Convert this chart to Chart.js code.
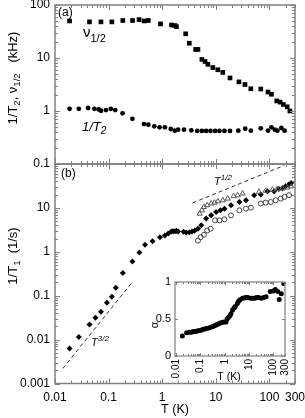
<!DOCTYPE html>
<html lang="en">
<head>
<meta charset="UTF-8">
<title>Relaxation rates vs temperature</title>
<script src="https://cdn.jsdelivr.net/npm/chart.js@4"></script>
<style>
  body { margin: 0; background: #fff; }
  #wrap { position: relative; width: 305px; height: 418px; }
  canvas { position: absolute; }
</style>
</head>
<body>
<div id="wrap">
  <canvas id="top-panel" width="305" height="418" style="left:0;top:0"></canvas>
  <canvas id="bottom-panel" width="305" height="418" style="left:0;top:0"></canvas>
  <canvas id="inset" width="165" height="120" style="left:140px;top:268px"></canvas>
</div>
<script>
// (a) linewidth nu_1/2 (kHz) and 1/T2 (kHz) vs T (K)
const tNu = [0.0187, 0.044, 0.072, 0.115, 0.184, 0.28, 0.37, 0.46, 0.55, 0.93, 1.49, 1.72, 1.84, 2.74, 3.2, 4.2, 4.64, 5.5, 6.3, 7.1, 8.8, 10.9, 13.5, 18.4, 27, 35, 45, 69, 94, 109, 137, 158, 182, 215, 241];
const nuHalf = [50, 48, 48, 48, 51, 51, 53, 50, 51, 44, 42, 41, 39, 28.6, 19, 14.5, 14.5, 9.4, 8.6, 7.6, 6.6, 6.0, 5.35, 4.2, 3.54, 3.16, 2.63, 2.6, 2.28, 2.07, 1.55, 1.47, 1.33, 1.2, 1.0];
const tT2 = [0.0187, 0.0278, 0.0414, 0.0543, 0.0654, 0.0722, 0.0893, 0.11, 0.133, 0.182, 0.278, 0.457, 0.55, 0.711, 0.893, 1.12, 1.445, 1.72, 1.98, 2.55, 3.49, 4.51, 5.5, 6.6, 7.96, 9.72, 11.7, 14.5, 18.4, 26.3, 35.4, 45, 69, 94, 109, 126, 141, 167, 192];
const invT2 = [1.10, 1.10, 1.14, 1.10, 1.07, 1.01, 1.04, 1.10, 1.04, 0.905, 0.711, 0.566, 0.551, 0.513, 0.491, 0.491, 0.457, 0.426, 0.445, 0.445, 0.432, 0.42, 0.42, 0.42, 0.42, 0.42, 0.42, 0.42, 0.42, 0.426, 0.465, 0.426, 0.471, 0.426, 0.491, 0.445, 0.426, 0.478, 0.426];

// (b) 1/T1 (1/s) vs T (K)
const tT1 = [0.0187, 0.0278, 0.044, 0.0568, 0.072, 0.093, 0.115, 0.136, 0.184, 0.278, 0.375, 0.478, 0.66, 0.906, 1.12, 1.3, 1.49, 1.6, 1.74, 1.85, 1.98, 2.5, 2.8, 3.2, 3.6, 4.0, 4.64, 5.35, 6.6, 8.2, 10.1, 12.2, 14.5, 19.2, 27.5, 36.6, 52, 69, 92, 122, 150, 175, 200, 230, 255];
const invT1 = [0.00625, 0.0115, 0.0222, 0.0315, 0.043, 0.0695, 0.095, 0.151, 0.328, 0.605, 0.96, 1.44, 1.74, 2.15, 2.35, 2.6, 2.9, 2.95, 2.95, 3.0, 2.9, 2.85, 2.75, 2.8, 2.9, 3.0, 3.35, 4.0, 5.7, 6.76, 8.05, 8.8, 9.6, 11.5, 13.7, 14.9, 19.4, 20.2, 24, 24, 27, 28, 31, 34, 37];
const tTri = [5.0, 5.5, 6.0, 6.9, 8.2, 9.5, 10.9, 13.5, 16.7, 21.5, 25.5, 31.6, 64, 85, 114, 141, 174, 215, 255];
const triT1 = [7.4, 8.8, 10.5, 11.5, 12.6, 13.2, 14.1, 14.9, 16.3, 18.5, 19.4, 21.3, 23.2, 24.5, 26, 27, 28, 29, 31];
const tCirc = [4.64, 5.2, 6.0, 6.9, 8.0, 9.7, 11.7, 14.5, 19.2, 27.5, 36.4, 45, 69, 85, 106, 131, 162, 192, 232];
const circT1 = [1.8, 2.15, 2.44, 3.06, 3.35, 5.2, 5.2, 5.5, 6.76, 8.8, 9.6, 10.1, 12.6, 13.2, 13.6, 14.9, 16.3, 17.8, 19.5];

// guide lines T^1/2 and T^3/2 (end points)
const halfLineT = [3.7, 190];
const halfLineY = [13, 93];
const threeHalfT = [0.014, 0.28];
const threeHalfY = [0.0022, 0.207];

// inset: stretch exponent alpha vs T (K)
const tAlpha = [0.018, 0.027, 0.035, 0.043, 0.05, 0.059, 0.07, 0.08, 0.095, 0.11, 0.13, 0.15, 0.18, 0.22, 0.27, 0.33, 0.38, 0.44, 0.5, 0.6, 0.7, 0.82, 0.95, 1.13, 1.25, 1.4, 1.64, 1.8, 2.1, 2.4, 2.7, 3.3, 3.7, 4.2, 5.3, 6.2, 7.3, 9, 11.6, 14, 17.4, 20, 25, 32, 40, 50, 74, 100, 120, 152, 173, 210, 262, 277];
const alpha = [0.27, 0.315, 0.32, 0.32, 0.33, 0.33, 0.335, 0.34, 0.345, 0.35, 0.36, 0.365, 0.37, 0.38, 0.39, 0.40, 0.41, 0.42, 0.43, 0.44, 0.45, 0.455, 0.46, 0.46, 0.50, 0.52, 0.545, 0.57, 0.62, 0.65, 0.67, 0.71, 0.74, 0.76, 0.78, 0.785, 0.79, 0.79, 0.78, 0.78, 0.78, 0.79, 0.79, 0.78, 0.79, 0.80, 0.87, 0.88, 0.90, 0.87, 0.765, 0.84, 0.98, 1.0];

// tick labels
const xTicks = [0.01, 0.1, 1, 10, 100, 300];
const topYTicks = [0.1, 1, 10, 100];
const bottomYTicks = [0.001, 0.01, 0.1, 1, 10];
const insetYTicks = [0, 0.5, 1];

Chart.defaults.font.family = "'Liberation Sans', Arial, sans-serif";
Chart.defaults.color = '#000';

const FRAME = '#808080';
const pts = (xs, ys) => xs.map((x, i) => ({ x: x, y: ys[i] }));

function logMarks(min, max) {
    const out = [];
    for (let d = Math.floor(Math.log10(min)); d <= Math.ceil(Math.log10(max)); d++) {
        for (let k = 1; k <= 9; k++) {
            const v = k * Math.pow(10, d);
            if (v >= min * 0.999 && v <= max * 1.001) out.push({ v: v, major: k === 1 });
        }
    }
    return out;
}

// box around the plot area with inward ticks
function makeFrame(xMarks, yMarks, width, major, minor) {
    return {
        id: 'frame',
        afterDatasetsDraw(chart) {
            const { ctx, chartArea: a } = chart;
            const xs = chart.scales.x, ys = chart.scales.y;
            ctx.save();
            ctx.strokeStyle = FRAME;
            ctx.lineWidth = 1;
            ctx.beginPath();
            xMarks.forEach(m => {
                const px = Math.round(xs.getPixelForValue(m.v)) + 0.5;
                const len = m.major ? major : minor;
                ctx.moveTo(px, a.bottom); ctx.lineTo(px, a.bottom - len);
                ctx.moveTo(px, a.top); ctx.lineTo(px, a.top + len);
            });
            yMarks.forEach(m => {
                const py = Math.round(ys.getPixelForValue(m.v)) + 0.5;
                const len = m.major ? major : minor;
                ctx.moveTo(a.left, py); ctx.lineTo(a.left + len, py);
                ctx.moveTo(a.right, py); ctx.lineTo(a.right - len, py);
            });
            ctx.stroke();
            ctx.lineWidth = width;
            ctx.strokeRect(a.left, a.top, a.right - a.left, a.bottom - a.top);
            ctx.restore();
        }
    };
}

// text with sub/superscripts: parts = [text, size, dy, italic]
function rich(ctx, x, y, parts, rotate, center) {
    ctx.save();
    ctx.translate(x, y);
    if (rotate) ctx.rotate(-Math.PI / 2);
    ctx.fillStyle = '#000';
    ctx.textBaseline = 'alphabetic';
    ctx.textAlign = 'left';
    const fontOf = p => (p[3] ? 'italic ' : '') + p[1] + "px 'Liberation Sans', Arial, sans-serif";
    let w = 0;
    parts.forEach(p => { ctx.font = fontOf(p); w += ctx.measureText(p[0]).width; });
    let cx = center ? -w / 2 : 0;
    parts.forEach(p => {
        ctx.font = fontOf(p);
        ctx.fillText(p[0], cx, p[2] || 0);
        cx += ctx.measureText(p[0]).width;
    });
    ctx.restore();
}

function fixTicks(list) {
    return function (scale) { scale.ticks = list.map(v => ({ value: v })); };
}
function fixWidth(w) {
    return function (scale) { scale.width = w; scale.paddingTop = 0; scale.paddingBottom = 0; };
}
function fixHeight(h) {
    return function (scale) { scale.height = h; scale.paddingLeft = 0; scale.paddingRight = 0; };
}

const noPlugins = { legend: { display: false }, tooltip: { enabled: false } };

// ---- top panel (a)
new Chart(document.getElementById('top-panel'), {
    type: 'scatter',
    data: {
        datasets: [
            { data: pts(tNu, nuHalf), pointStyle: 'rect', pointRadius: 3.3, pointBorderWidth: 0, pointBackgroundColor: '#000' },
            { data: pts(tT2, invT2), pointStyle: 'circle', pointRadius: 2.4, pointBorderWidth: 0, pointBackgroundColor: '#000' }
        ]
    },
    options: {
        responsive: false,
        animation: false,
        events: [],
        layout: { padding: { left: 0, top: 5, right: 10, bottom: 254 } },
        plugins: noPlugins,
        scales: {
            x: { type: 'logarithmic', min: 0.01, max: 300, display: false },
            y: {
                type: 'logarithmic', min: 0.1, max: 100,
                afterBuildTicks: fixTicks(topYTicks), afterFit: fixWidth(55),
                grid: { display: false, drawTicks: false }, border: { display: false },
                ticks: { font: { size: 12 }, padding: 5, callback: v => String(v) }
            }
        }
    },
    plugins: [makeFrame(logMarks(0.01, 300), logMarks(0.1, 100), 1.5, 5, 3)]
});

// ---- bottom panel (b)
const labelPlugin = {
    id: 'labels',
    afterDraw(chart) {
        const ctx = chart.ctx;
        rich(ctx, 17, 78, [['1/T', 13], ['2', 9.5, 3], [', \u03bd', 13], ['1/2', 9.5, 3], ['   (kHz)', 13]], true, true);
        rich(ctx, 17, 256, [['1/T', 13], ['1', 9.5, 3], ['  (1/s)', 13]], true, true);
        rich(ctx, 58, 16, [['(a)', 12]]);
        rich(ctx, 61, 177, [['(b)', 12]]);
        rich(ctx, 83, 37, [['\u03bd', 15], ['1/2', 11, 5]]);
        rich(ctx, 82, 131, [['1/T', 13, 0, true], ['2', 10, 3, true]]);
        rich(ctx, 214, 185, [['T', 11, 0, true], ['1/2', 8, -5, true]]);
        rich(ctx, 91, 346, [['T', 11, 0, true], ['3/2', 8, -5, true]]);
    }
};

new Chart(document.getElementById('bottom-panel'), {
    type: 'scatter',
    data: {
        datasets: [
            { data: pts(halfLineT, halfLineY), showLine: true, pointRadius: 0, borderColor: '#333', borderWidth: 1, borderDash: [4, 3] },
            { data: pts(threeHalfT, threeHalfY), showLine: true, pointRadius: 0, borderColor: '#333', borderWidth: 1, borderDash: [4, 3] },
            { data: pts(tTri, triT1), pointStyle: 'triangle', pointRadius: 3, pointBorderWidth: 1, pointBorderColor: '#555', pointBackgroundColor: 'rgba(0,0,0,0)' },
            { data: pts(tCirc, circT1), pointStyle: 'circle', pointRadius: 2.5, pointBorderWidth: 1, pointBorderColor: '#444', pointBackgroundColor: 'rgba(0,0,0,0)' },
            { data: pts(tT1, invT1), pointStyle: 'rectRot', pointRadius: 3, pointBorderWidth: 0, pointBackgroundColor: '#000' }
        ]
    },
    options: {
        responsive: false,
        animation: false,
        events: [],
        layout: { padding: { left: 0, top: 164, right: 10, bottom: 0 } },
        plugins: noPlugins,
        scales: {
            x: {
                type: 'logarithmic', min: 0.01, max: 300,
                afterBuildTicks: fixTicks(xTicks), afterFit: fixHeight(34.5),
                grid: { display: false, drawTicks: false }, border: { display: false },
                ticks: { font: { size: 12 }, padding: 7, autoSkip: false, maxRotation: 0, callback: v => String(v) },
                title: { display: true, text: 'T (K)', font: { size: 12.5 }, padding: { top: 0, bottom: 1 } }
            },
            y: {
                type: 'logarithmic', min: 0.001, max: 100,
                afterBuildTicks: fixTicks(bottomYTicks), afterFit: fixWidth(55),
                grid: { display: false, drawTicks: false }, border: { display: false },
                ticks: { font: { size: 12 }, padding: 5, callback: v => String(v) }
            }
        }
    },
    plugins: [makeFrame(logMarks(0.01, 300), logMarks(0.001, 100), 1.5, 5, 3), labelPlugin]
});

// ---- inset: alpha vs T
const insetPlugin = {
    id: 'insetText',
    beforeDatasetsDraw(chart) {
        const { ctx, chartArea: a } = chart;
        ctx.save();
        ctx.fillStyle = '#fff';
        ctx.fillRect(a.left, a.top, a.right - a.left, a.bottom - a.top);
        ctx.restore();
    },
    afterDraw(chart) {
        const ctx = chart.ctx;
        rich(ctx, 18, 57, [['\u03b1', 11]], true, true);
        rich(ctx, 89, 112, [['T (K)', 10.5]], false, true);
    }
};

new Chart(document.getElementById('inset'), {
    type: 'scatter',
    data: {
        datasets: [
            { data: pts(tAlpha, alpha), pointStyle: 'circle', pointRadius: 2.5, pointBorderWidth: 0, pointBackgroundColor: '#000' }
        ]
    },
    options: {
        responsive: false,
        animation: false,
        events: [],
        layout: { padding: { left: 0, top: 14, right: 20, bottom: 0 } },
        plugins: noPlugins,
        scales: {
            x: {
                type: 'logarithmic', min: 0.009, max: 300,
                afterBuildTicks: fixTicks(xTicks), afterFit: fixHeight(32),
                grid: { display: false, drawTicks: false }, border: { display: false },
                ticks: { font: { size: 10 }, padding: 3, autoSkip: false, minRotation: 90, maxRotation: 90, callback: v => String(v) }
            },
            y: {
                type: 'linear', min: 0, max: 1,
                afterBuildTicks: fixTicks(insetYTicks), afterFit: fixWidth(35),
                grid: { display: false, drawTicks: false }, border: { display: false },
                ticks: { font: { size: 11 }, padding: 4, callback: v => String(v) }
            }
        }
    },
    plugins: [makeFrame(logMarks(0.01, 300), insetYTicks.map(v => ({ v: v, major: true })), 1.2, 3, 2), insetPlugin]
});
</script>
</body>
</html>
